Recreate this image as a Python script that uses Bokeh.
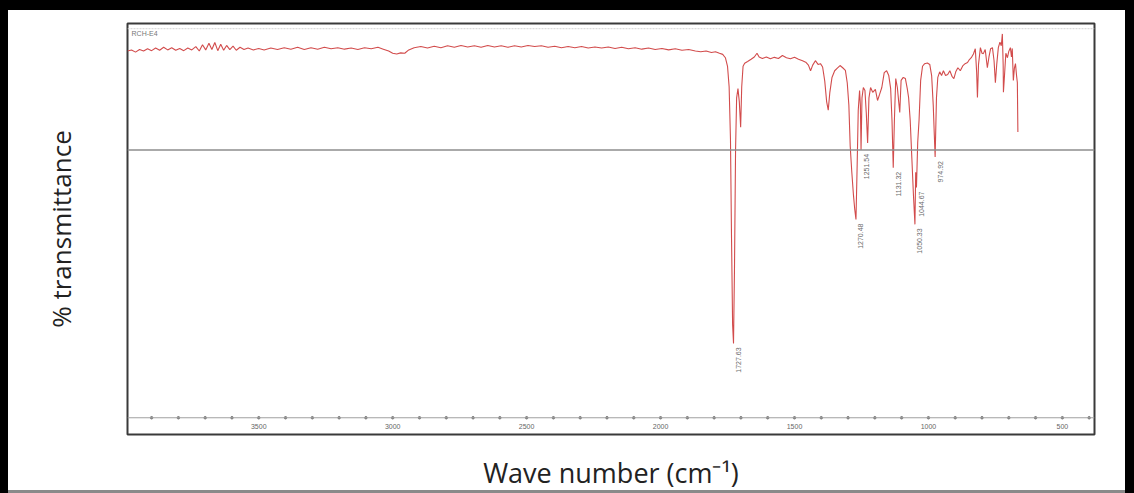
import math
from bokeh.plotting import figure
from bokeh.models import Range1d, Span, Label, FixedTicker
from bokeh.core.properties import value
from bokeh.embed import file_html
from bokeh.resources import INLINE

# ---------------- data ----------------
wavenumber = [
    3990, 3975, 3960, 3945, 3930, 3915, 3900, 3885, 3870, 3855, 3840, 3825, 3810, 3795, 3780, 3765,
    3750, 3735, 3722, 3710, 3698, 3686, 3675, 3664, 3653, 3642, 3631, 3620, 3608, 3596, 3584, 3570,
    3555, 3540, 3520, 3500, 3480, 3455, 3430, 3405, 3380, 3355, 3330, 3305, 3280, 3255, 3230, 3205,
    3180, 3155, 3130, 3105, 3080, 3055, 3035, 3015, 3000, 2985, 2970, 2955, 2940, 2920, 2895, 2870,
    2845, 2820, 2795, 2770, 2745, 2720, 2695, 2670, 2645, 2620, 2595, 2570, 2545, 2520, 2495, 2470,
    2445, 2420, 2395, 2370, 2345, 2320, 2295, 2270, 2245, 2220, 2195, 2170, 2145, 2120, 2095, 2070,
    2045, 2020, 1995, 1970, 1945, 1920, 1895, 1870, 1850, 1830, 1810, 1795, 1780, 1768, 1758, 1750,
    1744, 1739, 1735, 1731, 1727.63, 1724, 1720, 1716, 1711, 1706, 1701, 1697, 1692, 1686, 1675, 1662,
    1650, 1640, 1632, 1620, 1605, 1590, 1575, 1560, 1545, 1530, 1515, 1500, 1485, 1470, 1458, 1448,
    1440, 1432, 1422, 1412, 1403, 1395, 1387, 1380, 1374, 1368, 1360, 1350, 1340, 1330, 1320, 1310,
    1303, 1297, 1292, 1286, 1280, 1275, 1270.48, 1266, 1262, 1257, 1254, 1251.54, 1248, 1243, 1237, 1232,
    1227, 1222, 1216, 1208, 1198, 1190, 1182, 1174, 1165, 1156, 1148, 1141, 1136, 1131.32, 1127, 1122,
    1116, 1111, 1107, 1102, 1094, 1086, 1079, 1074, 1068, 1062, 1056, 1050.33, 1047.5, 1044.67, 1040, 1035,
    1029, 1022, 1014, 1004, 995, 988, 982, 978, 974.92, 970, 965, 958, 951, 944, 936, 928,
    920, 912, 905, 898, 890, 881, 872, 863, 854, 847, 840, 832, 825, 820, 817, 813,
    806, 800, 795, 788, 780, 774, 768, 761, 755, 750, 745, 739, 733, 728, 724, 721,
    720, 716, 711, 705, 700, 694, 690, 687, 683, 679, 675, 671, 668, 666,
]
transmittance = [
    98.6, 98.9, 98.3, 99.0, 98.6, 99.2, 98.7, 99.4, 98.8, 99.6, 98.9, 99.5, 98.8, 99.3, 98.7, 99.4,
    98.9, 99.8, 98.6, 100.3, 98.9, 100.7, 99.0, 100.9, 98.7, 100.4, 98.8, 100.1, 99.0, 99.9, 98.8, 99.6,
    99.0, 99.4, 98.9, 99.3, 98.9, 99.4, 99.0, 99.5, 99.1, 99.6, 99.0, 99.5, 99.1, 99.6, 99.2, 99.5,
    99.1, 99.4, 99.0, 99.5, 99.2, 99.6, 99.1, 98.6, 98.0, 97.8, 98.1, 98.0, 98.9, 99.5, 99.8, 99.4,
    99.9, 99.5, 100.0, 99.6, 100.1, 99.7, 100.0, 99.6, 100.1, 99.7, 100.0, 99.6, 100.0, 99.7, 100.1, 99.8,
    100.0, 99.6, 99.9, 99.5, 99.8, 99.5, 99.8, 99.4, 99.7, 99.4, 99.7, 99.3, 99.6, 99.2, 99.5, 99.1,
    99.4, 99.0, 99.3, 98.9, 99.2, 98.8, 99.0, 98.6, 98.4, 98.6, 98.2, 98.4, 98.0, 97.7, 96.8, 94.5,
    89.0, 75.0, 48.0, 25.0, 20.0, 40.0, 72.0, 86.0, 88.5, 85.0, 78.1, 89.0, 94.5, 95.3, 95.8, 96.4,
    97.0, 98.0, 97.0, 96.6, 97.0, 96.5, 96.9, 96.6, 97.4, 96.8, 96.5, 96.9, 96.4, 96.0, 95.6, 94.8,
    93.3, 94.8, 96.0, 95.0, 95.2, 94.3, 90.5, 85.0, 82.7, 87.5, 91.5, 93.3, 94.0, 94.7, 94.1, 93.4,
    90.0, 84.0, 73.0, 66.0, 60.0, 56.0, 53.3, 68.0, 82.7, 88.0, 84.0, 72.0, 86.0, 88.8, 88.0, 82.0,
    73.9, 86.0, 88.8, 87.5, 88.3, 85.3, 87.0, 88.8, 92.8, 93.3, 92.0, 88.5, 80.0, 67.2, 80.0, 91.2,
    88.8, 85.0, 82.1, 90.7, 91.5, 91.2, 88.5, 86.1, 80.0, 70.0, 60.0, 52.0, 66.0, 61.9, 74.0, 80.0,
    90.7, 94.5, 95.2, 95.4, 95.0, 92.0, 84.0, 76.0, 70.1, 86.0, 91.5, 93.0, 92.0, 93.3, 92.0, 92.3,
    93.3, 91.8, 91.2, 93.0, 94.1, 93.3, 94.6, 95.2, 95.5, 96.3, 96.8, 97.8, 99.2, 93.0, 86.1, 95.0,
    99.5, 98.0, 97.9, 99.0, 94.1, 97.0, 99.2, 99.5, 96.0, 90.1, 95.0, 99.5, 101.0, 100.0, 103.2, 95.0,
    87.5, 92.0, 98.0, 96.8, 98.5, 99.5, 97.0, 99.3, 90.7, 94.0, 95.2, 92.0, 90.1, 76.8,
]

peak_wavenumbers = [1727.63, 1270.48, 1251.54, 1131.32, 1050.33, 1044.67, 974.92]
peak_transmittance = [20.0, 53.3, 72.0, 67.2, 52.0, 61.9, 70.1]
peak_labels = ["1727.63", "1270.48", "1251.54", "1131.32", "1050.33", "1044.67", "974.92"]

axis_tick_values = [3500, 3000, 2500, 2000, 1500, 1000, 500]
axis_tick_labels = ["3500", "3000", "2500", "2000", "1500", "1000", "500"]
axis_minor_ticks = [3900, 3800, 3700, 3600, 3500, 3400, 3300, 3200, 3100, 3000, 2900, 2800, 2700,
                    2600, 2500, 2400, 2300, 2200, 2100, 2000, 1900, 1800, 1700, 1600, 1500, 1400,
                    1300, 1200, 1100, 1000, 900, 800, 700, 600, 500, 400]
sample_name = "RCH-E4"
reference_level = 72

# ---------------- figure ----------------
p = figure(width=1134, height=493, output_backend="svg", toolbar_location=None,
           x_range=Range1d(3990, 380), y_range=Range1d(-4.5, 106),
           min_border_left=127, min_border_right=40, min_border_top=23, min_border_bottom=56)
p.styles = {"box-shadow": "inset 8px 10px 0 0 #000, inset -9px 0 0 0 #000, inset 0 -3px 0 0 #8a8a8a"}
p.background_fill_color = "white"
p.border_fill_color = None
p.outline_line_color = "#3a3a3a"
p.outline_line_width = 2
p.xgrid.visible = False
p.ygrid.visible = False

for ax in (p.xaxis, p.yaxis):
    ax.ticker = FixedTicker(ticks=[])
    ax.axis_line_color = None
    ax.major_tick_line_color = None
    ax.minor_tick_line_color = None
    ax.axis_label_text_font = "Open Sans"
    ax.axis_label_text_font_style = "normal"
    ax.axis_label_text_color = "#222222"

p.yaxis.axis_label = "% transmittance"
p.yaxis.axis_label_text_font_size = "26px"
p.yaxis.axis_label_standoff = 49
p.xaxis.axis_label = "Wave number (cm\u207b\u00b9)"
p.xaxis.axis_label_text_font_size = "27px"
p.xaxis.axis_label_standoff = 19

# faint top line and gray reference line
p.add_layout(Span(location=104.6, dimension="width", line_color="#d2d2d2", line_width=1,
                  line_dash="2 1"))
p.add_layout(Span(location=reference_level, dimension="width", line_color="#8e8e8e",
                  line_width=1.6))

# inner wavenumber axis of the instrument printout
p.add_layout(Span(location=0, dimension="width", line_color="#a0a0a0", line_width=1))
p.scatter(axis_minor_ticks, [0] * len(axis_minor_ticks), size=2.5, color="#7a7a7a")
p.text(x=axis_tick_values, y=[0] * len(axis_tick_values), text=axis_tick_labels,
       y_offset=9, text_align="center", text_baseline="middle",
       text_font=value("Liberation Sans"), text_font_size="7px", text_color="#666666")

# spectrum
p.line(wavenumber, transmittance, line_color="#d24c4c", line_width=1.1)

# peak labels
p.text(x=peak_wavenumbers, y=peak_transmittance, text=peak_labels, angle=math.pi / 2,
       x_offset=5, y_offset=4, text_align="right", text_baseline="middle",
       text_font=value("Liberation Sans"), text_font_size="7px", text_color="#6a6a6a")

# sample name
p.add_layout(Label(x=3975, y=103.4, text=sample_name, text_font="Liberation Sans",
                   text_font_size="7px", text_color="#777777", text_baseline="middle"))

open("out.html", "w").write(file_html(p, INLINE))
